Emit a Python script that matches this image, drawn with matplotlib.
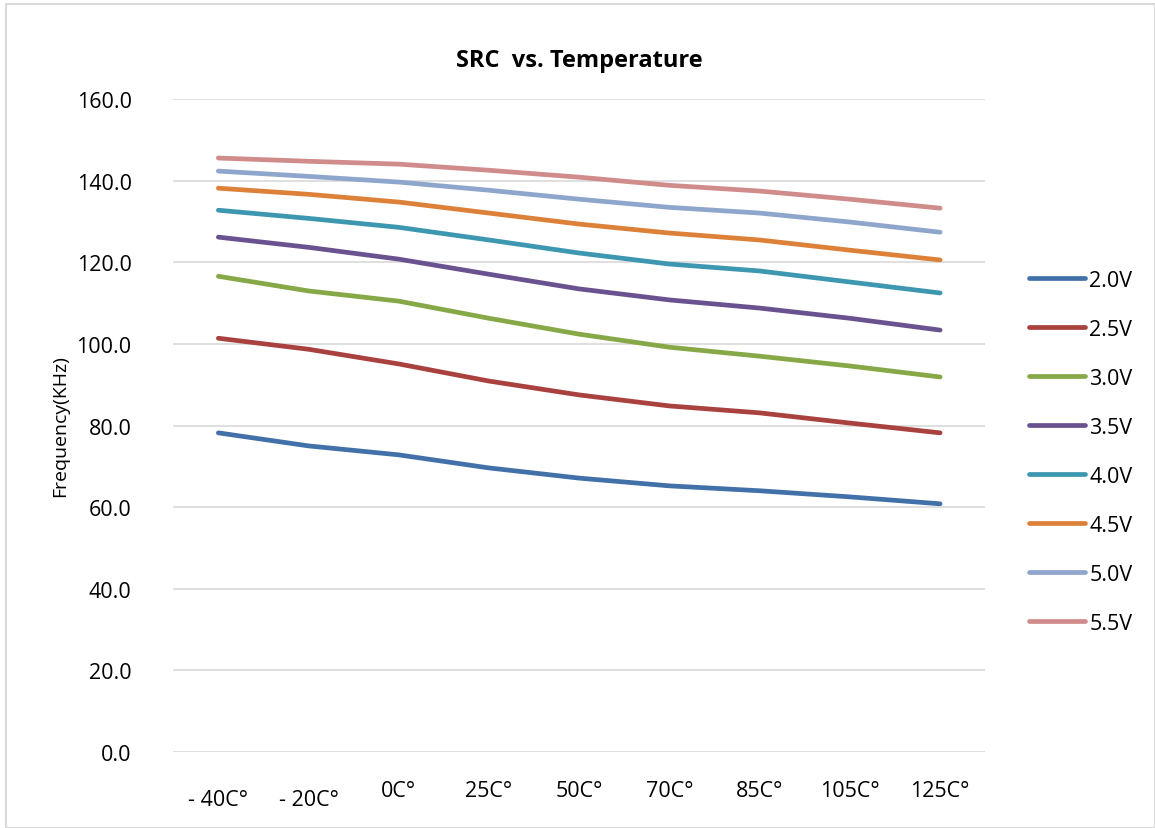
import matplotlib.pyplot as plt
from matplotlib.patches import Rectangle
from matplotlib.transforms import ScaledTranslation

plt.rcParams['font.family'] = ['Open Sans', 'DejaVu Sans']

temps = ['- 40C°', '- 20C°', '0C°', '25C°', '50C°', '70C°', '85C°', '105C°', '125C°']
voltages = ['2.0V', '2.5V', '3.0V', '3.5V', '4.0V', '4.5V', '5.0V', '5.5V']

v20 = [78.2, 75.0, 72.8, 69.6, 67.1, 65.2, 64.0, 62.5, 60.8]
v25 = [101.4, 98.7, 95.1, 90.9, 87.5, 84.8, 83.1, 80.6, 78.2]
v30 = [116.6, 113.0, 110.5, 106.3, 102.4, 99.2, 97.0, 94.6, 91.9]
v35 = [126.2, 123.7, 120.8, 117.1, 113.5, 110.8, 108.8, 106.3, 103.4]
v40 = [132.8, 130.8, 128.6, 125.5, 122.3, 119.6, 117.9, 115.2, 112.5]
v45 = [138.2, 136.7, 134.8, 132.1, 129.4, 127.2, 125.5, 123.0, 120.6]
v50 = [142.4, 141.1, 139.7, 137.7, 135.5, 133.5, 132.1, 129.9, 127.4]
v55 = [145.6, 144.8, 144.1, 142.6, 140.9, 138.9, 137.5, 135.5, 133.3]

series = [v20, v25, v30, v35, v40, v45, v50, v55]
colors = ['#4270a8', '#a9413f', '#86a846', '#6a5290', '#3d97b0', '#de8138', '#8ea6cc', '#d08b8b']

fig = plt.figure(figsize=(11.55, 8.29), dpi=100)
ax = fig.add_axes([0.150, 0.092, 0.703, 0.787])

x = list(range(len(temps)))
for vals, name, c in zip(series, voltages, colors):
    ax.plot(x, vals, color=c, lw=3.4, solid_capstyle='round', label=name)

ax.set_xlim(-0.5, len(temps) - 0.5)
ax.set_ylim(0, 160)
ax.set_yticks(range(0, 161, 20))
ax.set_yticklabels([f'{v:.1f}' for v in range(0, 161, 20)])
ax.set_xticks(x)
ax.set_xticklabels(temps)
ax.tick_params(length=0, labelsize=15.5)
ax.tick_params(axis='y', pad=30)
ax.tick_params(axis='x', pad=20)
for lbl in ax.get_xticklabels()[:2]:
    lbl.set_transform(lbl.get_transform() + ScaledTranslation(0, -7 / 72, fig.dpi_scale_trans))

ax.grid(axis='y', color='#d9d9d9', lw=1.2)
ax.set_axisbelow(True)
for s in ax.spines.values():
    s.set_visible(False)

ax.set_ylabel('Frequency(KHz)', fontsize=14, labelpad=5)
ax.set_title('SRC  vs. Temperature', fontsize=17, fontweight='bold', pad=24)

ax.legend(loc='center left', bbox_to_anchor=(1.03, 0.46), frameon=False, fontsize=15.5,
          handlelength=2.6, labelspacing=1.3, handletextpad=0.2)

fig.patches.append(Rectangle((0.005, 0.0), 0.995, 0.994, transform=fig.transFigure,
                             fill=False, edgecolor='#d9d9d9', lw=1.5))

fig.savefig('out.png', dpi=100)
